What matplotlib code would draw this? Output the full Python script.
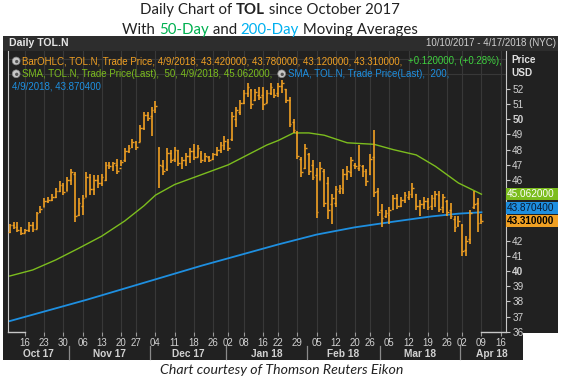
import matplotlib
matplotlib.use("Agg")
import matplotlib.pyplot as plt
import matplotlib.transforms as mtransforms
from matplotlib.offsetbox import AnchoredOffsetbox, HPacker, VPacker, TextArea, DrawingArea
from matplotlib.patches import Rectangle, Circle
from matplotlib.lines import Line2D
import pandas as pd

# ---------- data ----------
START = "2017-10-10"
END = "2018-04-17"
HOLIDAYS = ["2017-11-23", "2017-12-25", "2018-01-01", "2018-01-15",
            "2018-02-19", "2018-03-30"]

opens = [42.6, 43.0, 42.9, 42.7, 42.5, 42.7, 43.0, 42.8, 43.9, 44.2,
         44.6, 44.7, 44.9, 45.3, 45.7, 45.3, 46.0, 46.4, 43.7, 44.3,
         44.9, 46.2, 45.4, 46.0, 45.8, 46.0, 47.0, 46.9, 47.0, 46.8,
         47.3, 47.9, 48.2, 48.5, 48.5, 49.4, 50.3, 50.2, 50.7, 48.1,
         46.9, 46.7, 47.8, 47.4, 48.0, 47.1, 47.3, 47.6, 47.9, 47.5,
         47.8, 47.4, 47.5, 47.4, 47.7, 48.0, 48.3, 48.5, 48.7, 50.0,
         50.5, 51.1, 51.7, 51.9, 51.3, 51.6, 51.6, 51.1, 51.7, 52.0,
         51.7, 52.2, 52.0, 51.3, 49.8, 49.1, 47.4, 46.8, 47.7, 47.0,
         46.3, 46.0, 46.6, 45.8, 44.4, 44.5, 45.3, 45.4, 46.4, 46.5,
         47.0, 46.8, 46.9, 46.6, 46.4, 47.5, 45.3, 44.0, 43.6, 43.7,
         44.1, 44.8, 44.3, 44.7, 44.9, 45.1, 45.1, 44.3, 44.4, 44.6,
         44.3, 44.8, 45.0, 44.2, 44.6, 44.0, 43.4, 43.0, 43.0, 41.4,
         42.1, 44.2, 44.5, 43.42]
highs = [43.1, 43.2, 43.2, 42.9, 42.8, 43.2, 43.2, 43.9, 44.3, 44.8,
         44.9, 45.1, 45.5, 45.9, 45.8, 46.2, 46.7, 46.5, 44.8, 45.0,
         46.5, 46.4, 46.3, 46.3, 46.4, 47.2, 47.2, 47.2, 47.4, 47.3,
         48.1, 48.3, 48.7, 48.6, 49.6, 50.5, 50.5, 50.8, 51.2, 48.2,
         47.3, 48.1, 48.0, 48.2, 48.0, 47.5, 47.8, 48.1, 48.4, 48.3,
         47.9, 47.8, 47.6, 47.8, 48.2, 48.5, 48.9, 48.7, 50.5, 50.8,
         51.3, 51.9, 52.4, 52.0, 52.0, 52.1, 52.15, 51.9, 52.4, 52.0,
         52.4, 52.6, 52.0, 51.5, 50.0, 49.2, 47.5, 48.4, 47.8, 47.3,
         46.8, 47.2, 46.7, 46.2, 45.1, 45.6, 45.7, 46.7, 46.9, 47.5,
         47.1, 48.3, 47.0, 46.7, 47.7, 49.3, 45.5, 44.4, 44.0, 44.2,
         45.0, 45.1, 44.9, 45.2, 45.3, 45.8, 45.1, 44.7, 44.9, 44.8,
         45.0, 45.3, 45.3, 45.1, 44.7, 44.5, 43.6, 43.6, 43.1, 42.3,
         44.0, 45.3, 44.8, 43.78]
lows = [42.5, 42.8, 42.6, 42.4, 42.5, 42.6, 42.6, 42.8, 43.8, 44.2,
        44.5, 44.6, 44.8, 45.2, 45.0, 45.3, 45.7, 43.2, 43.6, 43.7,
        44.9, 45.0, 45.0, 45.5, 45.6, 45.9, 46.7, 46.6, 46.4, 46.9,
        47.2, 47.8, 48.1, 48.0, 48.5, 49.3, 49.9, 48.9, 50.4, 45.5,
        46.3, 46.6, 47.1, 47.2, 46.9, 46.7, 46.9, 47.1, 47.3, 47.5,
        47.1, 47.2, 47.2, 47.3, 47.6, 47.8, 48.0, 47.9, 48.6, 49.5,
        50.3, 51.0, 51.5, 50.7, 51.2, 51.3, 50.6, 51.05, 51.6, 51.4,
        51.5, 51.7, 51.05, 49.5, 49.1, 47.4, 46.2, 46.7, 46.3, 46.0,
        43.5, 46.0, 44.2, 43.4, 43.1, 44.2, 45.1, 45.1, 46.0, 46.2,
        46.7, 46.6, 46.2, 45.6, 46.3, 44.9, 43.6, 42.9, 43.5, 43.1,
        44.0, 44.1, 44.2, 44.5, 44.7, 44.8, 44.0, 43.6, 44.1, 44.0,
        44.0, 44.2, 43.9, 43.8, 43.6, 43.4, 42.6, 42.9, 41.0, 41.0,
        41.8, 44.1, 42.6, 43.12]
closes = [43.0, 42.9, 42.7, 42.5, 42.7, 43.0, 42.8, 43.8, 44.1, 44.6,
          44.7, 44.9, 45.3, 45.7, 45.2, 46.0, 46.5, 43.6, 44.5, 44.8,
          46.2, 45.4, 46.0, 45.8, 46.2, 47.0, 46.9, 47.1, 46.6, 47.2,
          47.9, 48.1, 48.5, 48.2, 49.4, 50.3, 50.1, 50.6, 50.9, 47.0,
          46.6, 47.8, 47.3, 48.0, 47.1, 47.3, 47.6, 47.9, 47.5, 48.1,
          47.3, 47.6, 47.3, 47.7, 48.0, 48.3, 48.6, 48.1, 50.2, 50.6,
          51.1, 51.7, 52.1, 51.0, 51.8, 51.5, 51.0, 51.7, 52.1, 51.6,
          52.2, 52.4, 51.3, 49.7, 49.3, 47.6, 46.5, 48.1, 46.6, 46.2,
          43.9, 46.8, 44.5, 44.0, 44.8, 45.4, 45.5, 46.4, 46.6, 47.3,
          46.9, 47.0, 46.6, 45.9, 47.4, 45.2, 43.9, 43.5, 43.8, 44.0,
          44.8, 44.3, 44.7, 45.0, 45.1, 45.5, 44.3, 44.4, 44.6, 44.2,
          44.8, 45.1, 44.1, 44.9, 43.9, 43.6, 42.9, 43.3, 41.3, 42.0,
          43.8, 44.4, 43.19, 43.31]

sma50_dates = ["2017-10-10", "2017-10-18", "2017-10-26", "2017-11-03", "2017-11-13",
               "2017-11-21", "2017-11-29", "2017-12-04", "2017-12-11", "2017-12-20",
               "2018-01-02", "2018-01-09", "2018-01-17", "2018-01-22", "2018-01-26",
               "2018-02-01", "2018-02-07", "2018-02-15", "2018-02-27", "2018-03-06",
               "2018-03-14", "2018-03-21", "2018-03-29", "2018-04-09"]
sma50_vals = [39.67, 40.07, 40.73, 41.5, 42.3, 43.3, 44.3, 45.0, 45.7, 46.35,
              47.0, 47.65, 48.3, 48.6, 49.1, 49.1, 48.95, 48.45, 48.35, 48.0,
              47.65, 46.9, 45.8, 45.062]

sma200_dates = ["2017-10-10", "2017-10-24", "2017-11-07", "2017-11-21", "2017-12-06",
                "2017-12-20", "2018-01-05", "2018-01-22", "2018-02-05", "2018-02-20",
                "2018-03-06", "2018-03-20", "2018-03-29", "2018-04-09"]
sma200_vals = [36.70, 37.40, 38.10, 38.85, 39.60, 40.35, 41.05, 41.75, 42.40, 42.88,
               43.25, 43.60, 43.78, 43.8704]

# ---------- styles ----------
W, H = 563, 385
PANEL = "#212121"
HEADER = "#2d2d2d"
GRID = "#383838"
AXIS_TXT = "#d2d2d2"
ORANGE = "#f0a023"
GREEN = "#7cbd1e"
BRIGHT_GREEN = "#3fd13f"
BLUE = "#1e8fe0"
FONT = "Liberation Sans"
TITLE_FONT = "Lato"


def fx(x):
    return x / W


def fy(y):
    return 1 - y / H


def fig_rect(fig, x0, y0, x1, y1, color, z=-10):
    fig.add_artist(Rectangle((fx(x0), fy(y1)), fx(x1) - fx(x0), fy(y0) - fy(y1),
                             transform=fig.transFigure, facecolor=color,
                             edgecolor="none", zorder=z))


def icon():
    da = DrawingArea(6, 6, 0, 0)
    da.add_artist(Circle((3, 3), 2.8, facecolor="#c8c8c8", edgecolor="#888888", lw=0.5))
    da.add_artist(Circle((3.4, 2.6), 1.2, facecolor="#555555", edgecolor="none"))
    return da


def txt(s, color, size=7.0, weight="normal"):
    return TextArea(s, textprops=dict(color=color, fontsize=size, family=FONT,
                                      fontweight=weight))


def ttl(s, color="#222222", weight="normal"):
    return TextArea(s, textprops=dict(fontsize=10.8, family=TITLE_FONT, color=color,
                                      fontweight=weight))


def main():
    dates = pd.bdate_range(START, END, freq="C", holidays=HOLIDAYS)
    pos = {d: i for i, d in enumerate(dates)}
    n = len(opens)
    idx = list(range(n))

    fig = plt.figure(figsize=(W / 100, H / 100), dpi=100)
    fig.patch.set_facecolor("white")

    # dark panels
    fig_rect(fig, 3, 36, 558, 333, PANEL)
    fig_rect(fig, 3, 333, 523, 360, PANEL)
    fig_rect(fig, 3, 36, 558, 51, HEADER)

    ax = fig.add_axes([fx(8), fy(332), fx(506) - fx(8), fy(51) - fy(332)])
    ax.set_facecolor(PANEL)
    x_lo, x_hi = -0.45, 129.4
    ax.set_xlim(x_lo, x_hi)
    ax.set_ylim(35.98, 54.5)

    # OHLC bars
    ax.vlines(idx, lows, highs, color=ORANGE, lw=1.2, zorder=3)
    ax.hlines(opens, [i - 0.45 for i in idx], idx, color=ORANGE, lw=1.0, zorder=3)
    ax.hlines(closes, idx, [i + 0.45 for i in idx], color=ORANGE, lw=1.0, zorder=3)

    # moving averages
    s50x = [pos[pd.Timestamp(d)] for d in sma50_dates]
    s200x = [pos[pd.Timestamp(d)] for d in sma200_dates]
    ax.plot(s50x, sma50_vals, color=GREEN, lw=1.0, zorder=2)
    ax.plot(s200x, sma200_vals, color=BLUE, lw=1.3, zorder=2)

    # weekly x ticks (first trading day of each week, skip first partial week)
    ser = pd.Series(range(len(dates)), index=dates)
    week_key = dates - pd.to_timedelta(dates.weekday, unit="D")
    first_of_week = ser.groupby(week_key).first().iloc[1:]
    wk_pos = list(first_of_week.values)
    wk_lab = [dates[i].strftime("%d") for i in wk_pos]
    ax.set_xticks(wk_pos)
    ax.set_xticklabels(wk_lab)
    ax.tick_params(axis="x", length=3, color="#9a9a9a", labelsize=6.9,
                   labelcolor=AXIS_TXT, pad=1.2)
    for lab in ax.get_xticklabels():
        lab.set_family(FONT)

    # price tags (values and where they sit)
    tag_h = 0.8
    tag_vals = [sma50_vals[-1], sma200_vals[-1], closes[-1]]
    tag_y = [sma50_vals[-1], max(sma200_vals[-1], closes[-1] + tag_h + 0.05), closes[-1]]

    # right price axis; labels hidden behind the tags are left blank
    ax.yaxis.tick_right()
    yt = list(range(36, 53))
    ax.set_yticks(yt)
    covered = [any(abs(v - c) < 0.55 for c in tag_y) for v in yt]
    ax.set_yticklabels(["" if cv else str(v) for v, cv in zip(yt, covered)])
    ax.tick_params(axis="y", length=3, color="#c8c8c8", labelsize=7.2,
                   labelcolor=AXIS_TXT, pad=1.5)
    for lab, v in zip(ax.get_yticklabels(), yt):
        lab.set_family(FONT)
        if v % 10 == 0:
            lab.set_fontweight("bold")

    ax.set_yticks(range(36, 55), minor=True)
    ax.grid(True, which="major", axis="x", color=GRID, lw=0.8)
    ax.grid(True, which="minor", axis="y", color=GRID, lw=0.8)
    ax.tick_params(axis="y", which="minor", length=0)
    ax.set_axisbelow(True)

    for side in ["top", "bottom"]:
        ax.spines[side].set_visible(False)
    ax.spines["left"].set_color("#c8c8c8")
    ax.spines["right"].set_color("#c8c8c8")
    ax.plot([0, 0.035], [0, 0], transform=ax.transAxes, color="#c8c8c8", lw=1, clip_on=False)
    ax.plot([0.95, 1], [0, 0], transform=ax.transAxes, color="#c8c8c8", lw=1, clip_on=False)

    # month labels + separators
    bt = mtransforms.blended_transform_factory(ax.transData, ax.transAxes)
    months = list(ser.groupby([dates.year, dates.month]))
    for k, ((yr, mo), grp) in enumerate(months):
        a = grp.iloc[0] - 0.5
        b = grp.iloc[-1] + 0.5 if k < len(months) - 1 else x_hi + 4.5
        name = pd.Timestamp(year=yr, month=mo, day=1).strftime("%b %y")
        ax.text((max(a, x_lo) + b) / 2, -0.08, name, transform=bt, ha="center",
                va="center", color=AXIS_TXT, fontsize=7.3, fontweight="bold",
                family=FONT, clip_on=False)
        if k > 0:
            ax.add_line(Line2D([a, a], [-0.05, -0.097], transform=bt,
                               color="#8a8a8a", lw=0.9, clip_on=False))

    # header texts
    fig.text(fx(9), fy(43.5), "Daily TOL.N", color="#e6e6e6", fontsize=7.6,
             fontweight="bold", family=FONT, va="center")
    fig.text(fx(556), fy(43.5), f"{dates[0].month}/{dates[0].day}/{dates[0].year} - "
             f"{dates[-1].month}/{dates[-1].day}/{dates[-1].year} (NYC)",
             color="#cfcfcf", fontsize=7, family=FONT, va="center", ha="right")
    fig.text(fx(511), fy(60), "Price", color="#e0e0e0", fontsize=7.2, fontweight="bold",
             family=FONT, va="center")
    fig.text(fx(511), fy(73), "USD", color="#e0e0e0", fontsize=7.2, fontweight="bold",
             family=FONT, va="center")

    # legend rows
    last = pd.Timestamp(dates[n - 1])
    dstr = f"{last.month}/{last.day}/{last.year}"
    chg = closes[-1] - closes[-2]
    pct = chg / closes[-2] * 100
    row1 = HPacker(children=[
        icon(),
        txt(f"BarOHLC, TOL.N, Trade Price, {dstr}, {opens[-1]:.6f}, {highs[-1]:.6f}, "
            f"{lows[-1]:.6f}, {closes[-1]:.6f}, ", ORANGE),
        txt(f"{chg:+.6f}, ({pct:+.2f}%),", BRIGHT_GREEN),
    ], align="center", pad=0, sep=1.5)
    row2 = HPacker(children=[
        icon(),
        txt(f"SMA, TOL.N, Trade Price(Last),  50, {dstr}, {sma50_vals[-1]:.6f}, ", GREEN),
        icon(),
        txt("SMA, TOL.N, Trade Price(Last),  200,", BLUE),
    ], align="center", pad=0, sep=1.5)
    row3 = HPacker(children=[txt(f"{dstr}, {sma200_vals[-1]:.6f}", BLUE)],
                   align="center", pad=0, sep=0)
    legend = VPacker(children=[row1, row2, row3], align="left", pad=0, sep=2.0)
    fig.add_artist(AnchoredOffsetbox(loc="upper left", child=legend, pad=0, borderpad=0,
                                     frameon=False, bbox_to_anchor=(fx(12), fy(56)),
                                     bbox_transform=fig.transFigure))

    # price tags on the right axis
    tt = mtransforms.blended_transform_factory(fig.transFigure, ax.transData)
    tag_style = [(GREEN, "white"), (BLUE, "#0a1a30"), (ORANGE, "black")]
    for yc, v, (bg, fg) in zip(tag_y, tag_vals, tag_style):
        fig.add_artist(Rectangle((fx(506), yc - tag_h / 2), fx(558) - fx(506), tag_h,
                                 transform=tt, facecolor=bg, edgecolor="none", zorder=5))
        fig.text(fx(507), yc, f"{v:.6f}", transform=tt, color=fg, fontsize=7.2,
                 fontweight="bold" if bg == ORANGE else "normal", family=FONT,
                 va="center", ha="left", zorder=6)

    # title
    t1 = HPacker(children=[ttl("Daily Chart of "), ttl("TOL", weight="bold"),
                           ttl(" since October 2017")], align="baseline", pad=0, sep=0)
    t2 = HPacker(children=[ttl("With "), ttl("50-Day", "#00b050"), ttl(" and "),
                           ttl("200-Day", "#00b0f0"), ttl(" Moving Averages")],
                 align="baseline", pad=0, sep=0)
    title = VPacker(children=[t1, t2], align="center", pad=0, sep=4)
    fig.add_artist(AnchoredOffsetbox(loc="upper center", child=title, pad=0, borderpad=0,
                                     frameon=False, bbox_to_anchor=(fx(270), fy(3)),
                                     bbox_transform=fig.transFigure))

    fig.text(fx(282), fy(370), "Chart courtesy of Thomson Reuters Eikon", ha="center",
             va="center", fontsize=10.2, style="italic", family=TITLE_FONT, color="#222222")

    fig.savefig("out.png", dpi=100, facecolor="white")


if __name__ == "__main__":
    main()
